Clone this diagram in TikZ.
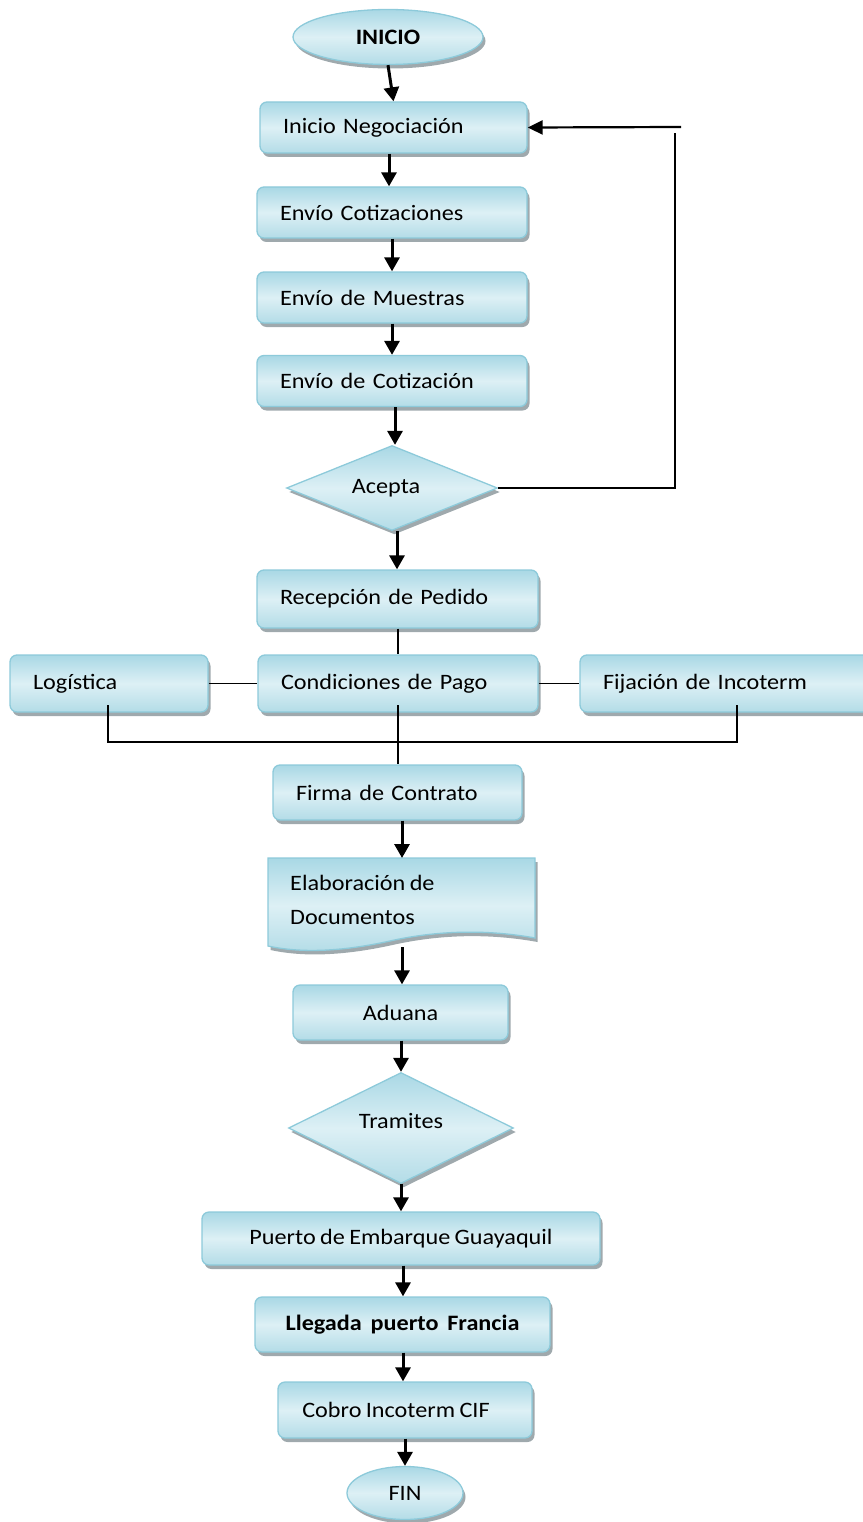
\documentclass[tikz,border=0pt]{standalone}
\usepackage{fontspec}
\setmainfont{Carlito}[FakeStretch=1.1, WordSpace=0.8]
\usetikzlibrary{shapes.geometric,shadows,arrows.meta}
\definecolor{bd}{HTML}{8DCADA}
\definecolor{cA}{HTML}{A9D8E5}
\definecolor{cB}{HTML}{DDF0F5}
\definecolor{cC}{HTML}{B3DCE7}
\definecolor{shd}{HTML}{9FA9AD}
\tikzset{
  flow/.style={draw=bd, line width=1.3pt, top color=cA, bottom color=cC, middle color=cB,
    drop shadow={shadow xshift=2.5pt, shadow yshift=-4pt, fill=shd, opacity=1}},
  proc/.style={flow, rectangle, rounded corners=7pt, inner ysep=0pt,
    font=\fontsize{22}{26}\selectfont},
  lproc/.style={proc, align=left, inner xsep=23pt},
  cproc/.style={proc, align=center, inner xsep=0pt},
  dec/.style={flow, diamond, inner sep=0pt, font=\fontsize{22}{26}\selectfont},
  term/.style={flow, ellipse, inner sep=0pt, font=\fontsize{22}{26}\selectfont},
  arr/.style={line width=3pt, -{Triangle[width=15pt,length=14pt]}},
  farr/.style={line width=2.2pt, -{Triangle[width=14pt,length=15pt]}},
  ln/.style={line width=1.6pt},
}
\begin{document}
\begin{tikzpicture}[x=1pt,y=-1pt]
\useasboundingbox (0,0) rectangle (862,1522);

\node[term, minimum width=190pt, minimum height=55pt] (ini) at (388,37) {\bfseries INICIO};
\node[lproc, text width=221pt, minimum height=51pt] (neg) at (393.5,127.5) {Inicio Negociación};
\node[lproc, text width=224pt, minimum height=51pt] (cot1) at (392,212.5) {Envío Cotizaciones};
\node[lproc, text width=224pt, minimum height=51pt] (mue) at (392,297.5) {Envío de Muestras};
\node[lproc, text width=224pt, minimum height=51pt] (cot2) at (392,381) {Envío de Cotización};
\node[dec, minimum width=211pt, minimum height=85pt, aspect=2.48] (acep) at (392,488) {\hspace*{-12pt}Acepta};
\node[lproc, text width=235pt, minimum height=58pt] (recep) at (397.5,599) {Recepción de Pedido};
\node[lproc, text width=152pt, minimum height=57pt] (log) at (109,683.5) {Logística};
\node[lproc, text width=234pt, minimum height=57pt] (cond) at (398,683.5) {Condiciones de Pago};
\node[lproc, text width=244pt, minimum height=57pt] (fij) at (725,683.5) {Fijación de Incoterm};
\node[lproc, text width=203pt, minimum height=55pt] (firma) at (397.5,792.5) {Firma de Contrato};

% document shape
\path[flow] (268,858) -- (535,858) -- (535,938)
  .. controls (480,928) and (430,932) .. (390,941)
  .. controls (340,952) and (300,953) .. (268,946) -- cycle;
\node[anchor=west, align=left, inner sep=0pt, font=\fontsize{22}{34}\selectfont] (elab) at (290,900) {Elaboración de\\Documentos};
\coordinate (elabtop) at (402,858);
\coordinate (elabbot) at (402,947);

\node[cproc, minimum width=215pt, minimum height=55pt] (adu) at (400.5,1012.5) {Aduana};
\node[dec, minimum width=225pt, minimum height=111pt, aspect=2.03] (tram) at (401,1128) {\raisebox{14pt}{Tramites}};
\node[cproc, minimum width=398pt, minimum height=53pt] (pue) at (401,1238.5) {Puerto de Embarque Guayaquil};
\node[cproc, minimum width=295pt, minimum height=55pt] (lleg) at (402.5,1324.5) {\bfseries Llegada\ \ puerto\ \ Francia};
\node[cproc, minimum width=254pt, minimum height=56pt] (cob) at (405,1410) {\hspace*{-18pt}Cobro Incoterm CIF};
\node[term, minimum width=116pt, minimum height=53pt] (fin) at (405,1493) {FIN};

% arrows
\draw[arr] (ini.south) -- (neg.north);
\draw[arr] (neg.south -| 389,0) -- (cot1.north -| 389,0);
\draw[arr] (cot1.south) -- (mue.north);
\draw[arr] (mue.south) -- (cot2.north);
\draw[arr] (cot2.south -| 395,0) -- (acep.north -| 395,0);
\draw[arr] (acep.south -| 397,0) -- (recep.north -| 397,0);
\draw[ln] (recep.south -| 398,0) -- (cond.north -| 398,0);
\draw[ln] (log.east) -- (cond.west);
\draw[ln] (cond.east) -- (fij.west);
\coordinate (fijb) at (737,705);
\coordinate (logb) at (108,705);
\draw[ln] (logb) -- (108,742) -- (737,742) -- (fijb);
\draw[ln] (398,705) -- (firma.north -| 398,0);
\draw[arr] (firma.south -| 402,0) -- (elabtop);
\draw[arr] (elabbot) -- (adu.north -| 402,0);
\draw[arr] (adu.south -| 401,0) -- (tram.north);
\draw[arr] (tram.south) -- (pue.north -| 401,0);
\draw[arr] (pue.south -| 403,0) -- (lleg.north -| 403,0);
\draw[arr] (lleg.south -| 403,0) -- (cob.north -| 403,0);
\draw[arr] (cob.south) -- (fin.north);

% feedback loop
\coordinate (fbA) at (675,133);
\coordinate (fbB) at (681,127);
\draw[ln] (acep.east) -| (fbA);
\draw[farr] (fbB) -- (neg.east);
\end{tikzpicture}
\end{document}
